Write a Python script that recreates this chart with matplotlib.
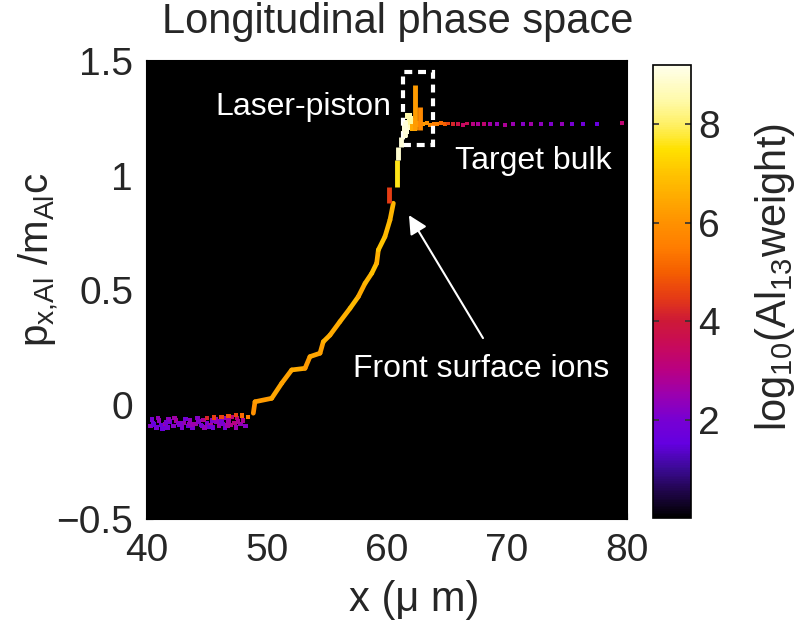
import numpy as np
import matplotlib
matplotlib.use("Agg")
import matplotlib.pyplot as plt
from matplotlib.collections import LineCollection
from matplotlib.colors import LinearSegmentedColormap, Normalize
from matplotlib.patches import Rectangle

plt.rcParams["font.family"] = ["Liberation Sans", "DejaVu Sans"]
plt.rcParams["mathtext.default"] = "regular"
TEXT = "#262626"

# ---- data ----------------------------------------------------------------
# main ridge of the front-surface ions (x in um, p in m_Al c, log10 weight)
ridge_x = [48.86, 49.00, 50.39, 51.23, 52.06, 53.17, 53.58, 54.42, 54.69, 55.25,
           56.08, 56.92, 57.61, 58.17, 58.73, 59.14, 59.28, 59.83, 60.25, 60.53]
ridge_p = [-0.038, 0.012, 0.027, 0.093, 0.151, 0.158, 0.209, 0.224, 0.274, 0.303,
           0.362, 0.420, 0.471, 0.529, 0.573, 0.617, 0.675, 0.733, 0.806, 0.879]
ridge_w = [6.0, 6.2, 6.4, 6.3, 6.5, 6.2, 6.4, 6.3, 6.6, 6.5,
           6.6, 6.8, 6.5, 6.7, 6.9, 6.6, 7.0, 6.8, 6.7]

# short streaks near the piston: x, p_start, p_end, log10 weight
streak_x = [60.17, 60.81, 60.94, 61.15, 61.50, 62.33, 62.75]
streak_p0 = [0.879, 0.952, 1.068, 1.126, 1.169, 1.200, 1.200]
streak_p1 = [0.952, 1.068, 1.126, 1.169, 1.240, 1.395, 1.300]
streak_w = [4.5, 7.6, 8.9, 9.0, 9.0, 6.2, 5.8]

# white cluster at the piston
piston_x = [61.40, 61.55, 61.65, 61.75, 61.90, 62.05, 61.60, 61.80, 62.20, 62.45]
piston_p = [1.180, 1.205, 1.230, 1.215, 1.245, 1.235, 1.195, 1.260, 1.210, 1.225]
piston_w = [8.8, 9.0, 8.9, 8.7, 8.6, 8.4, 9.0, 8.5, 6.5, 6.0]

# unperturbed target bulk
bulk_x = [63.0, 63.3, 63.6, 63.9, 64.2, 64.5, 64.8, 65.1, 65.5, 65.9, 66.3, 66.7,
          67.2, 67.6, 68.1, 68.6, 69.2, 69.8, 70.5, 71.3, 72.0, 72.8, 73.7, 74.6,
          75.4, 76.3, 77.5, 79.6]
bulk_p = [1.225, 1.228, 1.222, 1.226, 1.224, 1.229, 1.223, 1.227, 1.224, 1.226,
          1.222, 1.227, 1.225, 1.223, 1.226, 1.224, 1.225, 1.222, 1.226, 1.224,
          1.225, 1.223, 1.226, 1.224, 1.225, 1.226, 1.224, 1.228]
bulk_w = [6.2, 6.0, 5.8, 5.5, 5.6, 5.2, 5.0, 4.6, 4.2, 3.8, 3.4, 3.6,
          3.0, 2.8, 3.2, 2.6, 2.4, 2.8, 2.5, 2.2, 2.6, 2.3, 2.1, 2.4,
          2.0, 1.8, 1.6, 3.2]

# cold ions behind the front, x < 48.5 um
band_x = [40.3, 40.5, 40.8, 41.0, 41.2, 41.5, 41.7, 41.9, 42.2, 42.4, 42.7, 42.9,
          43.1, 43.4, 43.6, 43.8, 44.1, 44.3, 44.6, 44.8, 45.0, 45.3, 45.5, 45.8,
          46.0, 46.3, 46.5, 46.8, 47.0, 47.3, 47.5, 47.8, 48.0, 48.2,
          40.4, 40.9, 41.3, 41.8, 42.3, 42.8, 43.2, 43.7, 44.2, 44.7, 45.2, 45.7,
          46.2, 46.7, 47.1, 47.6, 40.6, 41.6, 42.6, 43.5, 44.5, 45.4, 46.4, 47.4,
          45.0, 45.6, 46.2, 46.8, 47.4, 47.9, 48.4]
band_p = [-0.095, -0.080, -0.100, -0.070, -0.090, -0.085, -0.100, -0.075, -0.095, -0.070,
          -0.090, -0.100, -0.080, -0.095, -0.070, -0.100, -0.085, -0.075, -0.095, -0.100,
          -0.080, -0.090, -0.100, -0.075, -0.095, -0.085, -0.100, -0.070, -0.090, -0.080,
          -0.060, -0.085, -0.070, -0.095,
          -0.065, -0.060, -0.105, -0.065, -0.060, -0.080, -0.062, -0.088, -0.060, -0.068,
          -0.098, -0.062, -0.075, -0.092, -0.055, -0.075, -0.088, -0.078, -0.082, -0.086,
          -0.090, -0.070, -0.060, -0.100,
          -0.058, -0.056, -0.055, -0.050, -0.045, -0.048, -0.055]
band_w = [2.2, 1.8, 2.0, 2.4, 1.6, 2.6, 2.0, 1.8, 2.2, 2.8, 1.9, 2.1,
          2.5, 1.7, 2.3, 2.0, 2.6, 2.2, 1.8, 2.4, 2.0, 2.7, 1.9, 2.3,
          2.5, 2.1, 1.8, 2.6, 2.9, 3.0, 3.2, 2.4, 2.8, 2.2,
          2.0, 2.4, 1.7, 2.3, 2.6, 2.1, 1.9, 2.5, 2.2, 2.8, 1.8, 2.4,
          2.0, 2.6, 3.2, 2.8, 1.6, 2.0, 2.2, 2.4, 1.9, 2.1, 2.3, 2.5,
          4.2, 4.5, 4.6, 4.8, 4.6, 5.2, 5.6]

cbar_ticks = [2, 4, 6, 8]
w_max = 9.2

# colour scale (value, RGB)
cmap_nodes = [(0.0, (0, 0, 0)), (0.5, (30, 5, 70)), (1.0, (60, 10, 150)),
              (1.5, (100, 0, 225)), (2.0, (120, 0, 210)), (2.5, (155, 0, 175)),
              (3.0, (185, 0, 130)), (3.5, (200, 10, 90)), (4.0, (205, 25, 55)),
              (4.5, (230, 60, 20)), (5.0, (245, 95, 0)), (5.5, (255, 125, 0)),
              (6.0, (255, 145, 0)), (6.5, (255, 170, 0)), (7.0, (255, 195, 0)),
              (7.5, (255, 225, 0)), (8.0, (255, 240, 100)), (8.5, (255, 250, 170)),
              (9.2, (255, 255, 235))]
cmap = LinearSegmentedColormap.from_list(
    "phase", [(v / w_max, tuple(c / 255 for c in rgb)) for v, rgb in cmap_nodes])
norm = Normalize(0, w_max)

# ---- figure --------------------------------------------------------------
fig = plt.figure(figsize=(7.98, 6.33), dpi=100)
ax = fig.add_axes([0.1842, 0.1801, 0.6015, 0.7235])
cax = fig.add_axes([0.8183, 0.1817, 0.0476, 0.7156])

ax.set_facecolor("black")

ax.scatter(band_x, band_p, c=band_w, cmap=cmap, norm=norm, marker="s", s=10, lw=0)

pts = np.column_stack([ridge_x, ridge_p])
segs = np.stack([pts[:-1], pts[1:]], axis=1)
ax.add_collection(LineCollection(segs, colors=cmap(norm(ridge_w)), lw=3.4,
                                 capstyle="round"))

streaks = [[(x, a), (x, b)] for x, a, b in zip(streak_x, streak_p0, streak_p1)]
ax.add_collection(LineCollection(streaks, colors=cmap(norm(streak_w)), lw=3.5))

ax.scatter(piston_x, piston_p, c=piston_w, cmap=cmap, norm=norm, marker="s", s=22, lw=0)
ax.scatter(bulk_x, bulk_p, c=bulk_w, cmap=cmap, norm=norm, marker="s", s=8, lw=0)

ax.set_xlim(40, 80)
ax.set_ylim(-0.5, 1.5)
ax.set_xticks([40, 50, 60, 70, 80])
ax.set_yticks([-0.5, 0, 0.5, 1, 1.5])
ax.set_yticklabels(["\u22120.5", "0", "0.5", "1", "1.5"])
ax.tick_params(direction="in", length=4, colors="black", labelcolor=TEXT,
               labelsize=28, pad=10)
for s in ax.spines.values():
    s.set_linewidth(1.5)

ax.set_title("Longitudinal phase space", fontsize=30, color=TEXT,
             x=0.523, y=1.061, pad=0, va="baseline")
ax.set_xlabel("x (\u03bc m)", fontsize=30, color=TEXT, va="center")
ax.xaxis.set_label_coords(0.556, -0.177)
ax.set_ylabel(r"p$_{x{,}Al}$ /m$_{Al}$c", fontsize=29, color=TEXT, va="center")
ax.yaxis.set_label_coords(-0.225, 0.565)

# annotations
ax.text(45.67, 1.264, "Laser-piston", color="white", fontsize=23, va="baseline")
ax.text(65.67, 1.028, "Target bulk", color="white", fontsize=23, va="baseline")
ax.text(57.17, 0.120, "Front surface ions", color="white", fontsize=23, va="baseline")
ax.annotate("", xy=(61.83, 0.827), xytext=(68.0, 0.29),
            arrowprops=dict(arrowstyle="-|>", color="white", lw=1.5,
                            mutation_scale=28, shrinkA=0, shrinkB=0))
ax.add_patch(Rectangle((61.33, 1.133), 2.5, 0.319, fill=False, ec="white",
                       lw=3, ls=(0, (1.9, 1.4))))

# colour bar
sm = plt.cm.ScalarMappable(norm=norm, cmap=cmap)
cb = fig.colorbar(sm, cax=cax, ticks=cbar_ticks)
cb.outline.set_linewidth(1.2)
cax.tick_params(direction="in", length=4, width=1.2, colors="#333333",
                labelcolor=TEXT, labelsize=28, pad=5, left=True, right=True)
fig.text(0.971, 0.562, r"log$_{10}$(Al$_{13}$weight)", rotation=90,
         fontsize=30, color=TEXT, ha="center", va="center")

fig.savefig("out.png", dpi=100, facecolor="white")
